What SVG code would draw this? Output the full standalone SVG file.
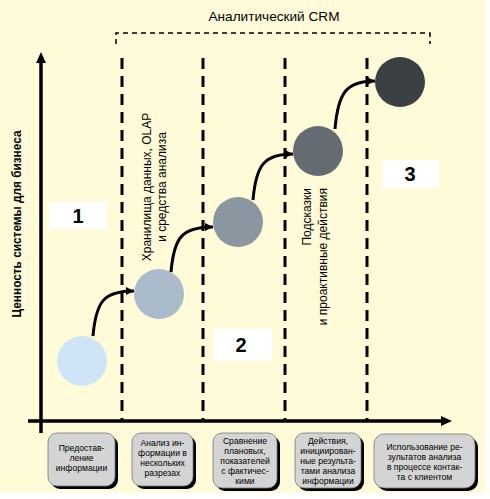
<svg xmlns="http://www.w3.org/2000/svg" width="490" height="499" viewBox="0 0 490 499">
<style>
.dash{stroke:#000;stroke-width:3;stroke-dasharray:11 7;fill:none}
.axis{stroke:#000;stroke-width:3.5;fill:none}
.conn{stroke:#000;stroke-width:3;fill:none;marker-end:url(#ah)}
.num{font-family:"Liberation Sans",Arial,sans-serif;font-weight:bold;font-size:20px;text-anchor:middle;fill:#000}
.rot{font-family:"Liberation Sans",Arial,sans-serif;font-size:12px;fill:#000}
.bx{fill:#d4d4d4;stroke:#777;stroke-width:0.8}
.sh{fill:#000}
.bt{font-family:"Liberation Sans",Arial,sans-serif;font-size:8.6px;text-anchor:middle;fill:#000}
</style>
<defs>
<marker id="ah" markerUnits="userSpaceOnUse" markerWidth="9" markerHeight="9" refX="8" refY="4" orient="auto">
<path d="M0,0 L8,4 L0,8 z" fill="#000"/>
</marker>
</defs>
<rect x="0" y="0" width="490" height="499" fill="#fff"/>
<rect x="0" y="0" width="485" height="493" fill="#fffbd9"/>

<text x="274" y="21" font-family="Liberation Sans,Arial,sans-serif" font-size="13" text-anchor="middle" textLength="131" lengthAdjust="spacingAndGlyphs">Аналитический CRM</text>
<path d="M116 44 V33 H430 V44" fill="none" stroke="#000" stroke-width="1.5" stroke-dasharray="5 4"/>

<g id="axes">
<line class="axis" x1="41" y1="62" x2="41" y2="433"/>
<path d="M41 52 L46 63 L36 63 z" fill="#000"/>
<line class="axis" x1="28" y1="421" x2="442" y2="421"/>
<path d="M452 421 L441 416 L441 426 z" fill="#000"/>
<text x="0" y="0" transform="translate(21,224) rotate(-90)" font-family="Liberation Sans,Arial,sans-serif" font-size="12" font-weight="bold" text-anchor="middle" textLength="187" lengthAdjust="spacingAndGlyphs">Ценность системы для бизнеса</text>
</g>

<g id="dividers">
<line class="dash" x1="122" y1="58" x2="122" y2="420"/>
<line class="dash" x1="203" y1="58" x2="203" y2="420"/>
<line class="dash" x1="285" y1="58" x2="285" y2="420"/>
<line class="dash" x1="367" y1="58" x2="367" y2="420"/>
</g>

<g id="label-olap" class="rot">
<text transform="translate(151,187) rotate(-90)" text-anchor="middle">Хранилища данных, OLAP</text>
<text transform="translate(166,187) rotate(-90)" text-anchor="middle">и средства анализа</text>
</g>
<g id="label-hints" class="rot">
<text transform="translate(311,188) rotate(-90)" text-anchor="end">Подсказки</text>
<text transform="translate(327,188) rotate(-90)" text-anchor="end">и проактивные действия</text>
</g>

<g id="n1"><rect x="49" y="202" width="58" height="27" fill="#fff"/><text class="num" x="78" y="223">1</text></g>
<g id="n2"><rect x="213" y="329" width="59" height="32" fill="#fff"/><text class="num" x="241" y="352">2</text></g>
<g id="n3"><rect x="382" y="160" width="57" height="28" fill="#fff"/><text class="num" x="410" y="181">3</text></g>

<g id="c1"><circle cx="82" cy="361" r="25" fill="#cfe5f7"/></g>
<g id="c2"><circle cx="159" cy="294" r="25" fill="#aabccb"/></g>
<g id="c3"><circle cx="238" cy="222" r="25" fill="#8a96a0"/></g>
<g id="c4"><circle cx="318" cy="151" r="25" fill="#646b72"/></g>
<g id="c5"><circle cx="400" cy="82" r="25" fill="#3b4044"/></g>

<g id="connectors">
<path class="conn" d="M93 336 C96 301 104 291 134 291"/>
<path class="conn" d="M171 272 C174 237 182 227 213 227"/>
<path class="conn" d="M253 200 C256 165 264 154 293 154"/>
<path class="conn" d="M335 129 C338 93 346 81 375 81"/>
</g>

<g id="b1">
<rect class="sh" x="51" y="436" width="67" height="53" rx="9"/>
<rect class="bx" x="48" y="433" width="67" height="53" rx="9"/>
<text class="bt" x="81.5" y="451">Предостав-</text>
<text class="bt" x="81.5" y="461">ление</text>
<text class="bt" x="81.5" y="471">информации</text>
</g>
<g id="b2">
<rect class="sh" x="135" y="436" width="61" height="53" rx="9"/>
<rect class="bx" x="132" y="433" width="61" height="53" rx="9"/>
<text class="bt" x="162.5" y="446">Анализ ин-</text>
<text class="bt" x="162.5" y="456">формации в</text>
<text class="bt" x="162.5" y="466">нескольких</text>
<text class="bt" x="162.5" y="476">разрезах</text>
</g>
<g id="b3">
<rect class="sh" x="216" y="436" width="64" height="55" rx="9"/>
<rect class="bx" x="213" y="433" width="64" height="55" rx="9"/>
<text class="bt" x="245" y="444">Сравнение</text>
<text class="bt" x="245" y="454">плановых,</text>
<text class="bt" x="245" y="464">показателей</text>
<text class="bt" x="245" y="474">с фактичес-</text>
<text class="bt" x="245" y="484">кими</text>
</g>
<g id="b4">
<rect class="sh" x="298" y="436" width="66" height="55" rx="9"/>
<rect class="bx" x="295" y="433" width="66" height="55" rx="9"/>
<text class="bt" x="328" y="444">Действия,</text>
<text class="bt" x="328" y="454">инициирован-</text>
<text class="bt" x="328" y="464">ные результа-</text>
<text class="bt" x="328" y="474">тами анализа</text>
<text class="bt" x="328" y="484">информации</text>
</g>
<g id="b5">
<rect class="sh" x="377" y="437" width="101" height="54" rx="10"/>
<rect class="bx" x="374" y="434" width="101" height="54" rx="10"/>
<text class="bt" x="424.5" y="450">Использование ре-</text>
<text class="bt" x="424.5" y="460">зультатов анализа</text>
<text class="bt" x="424.5" y="470">в процессе контак-</text>
<text class="bt" x="424.5" y="480">та с клиентом</text>
</g>
</svg>
